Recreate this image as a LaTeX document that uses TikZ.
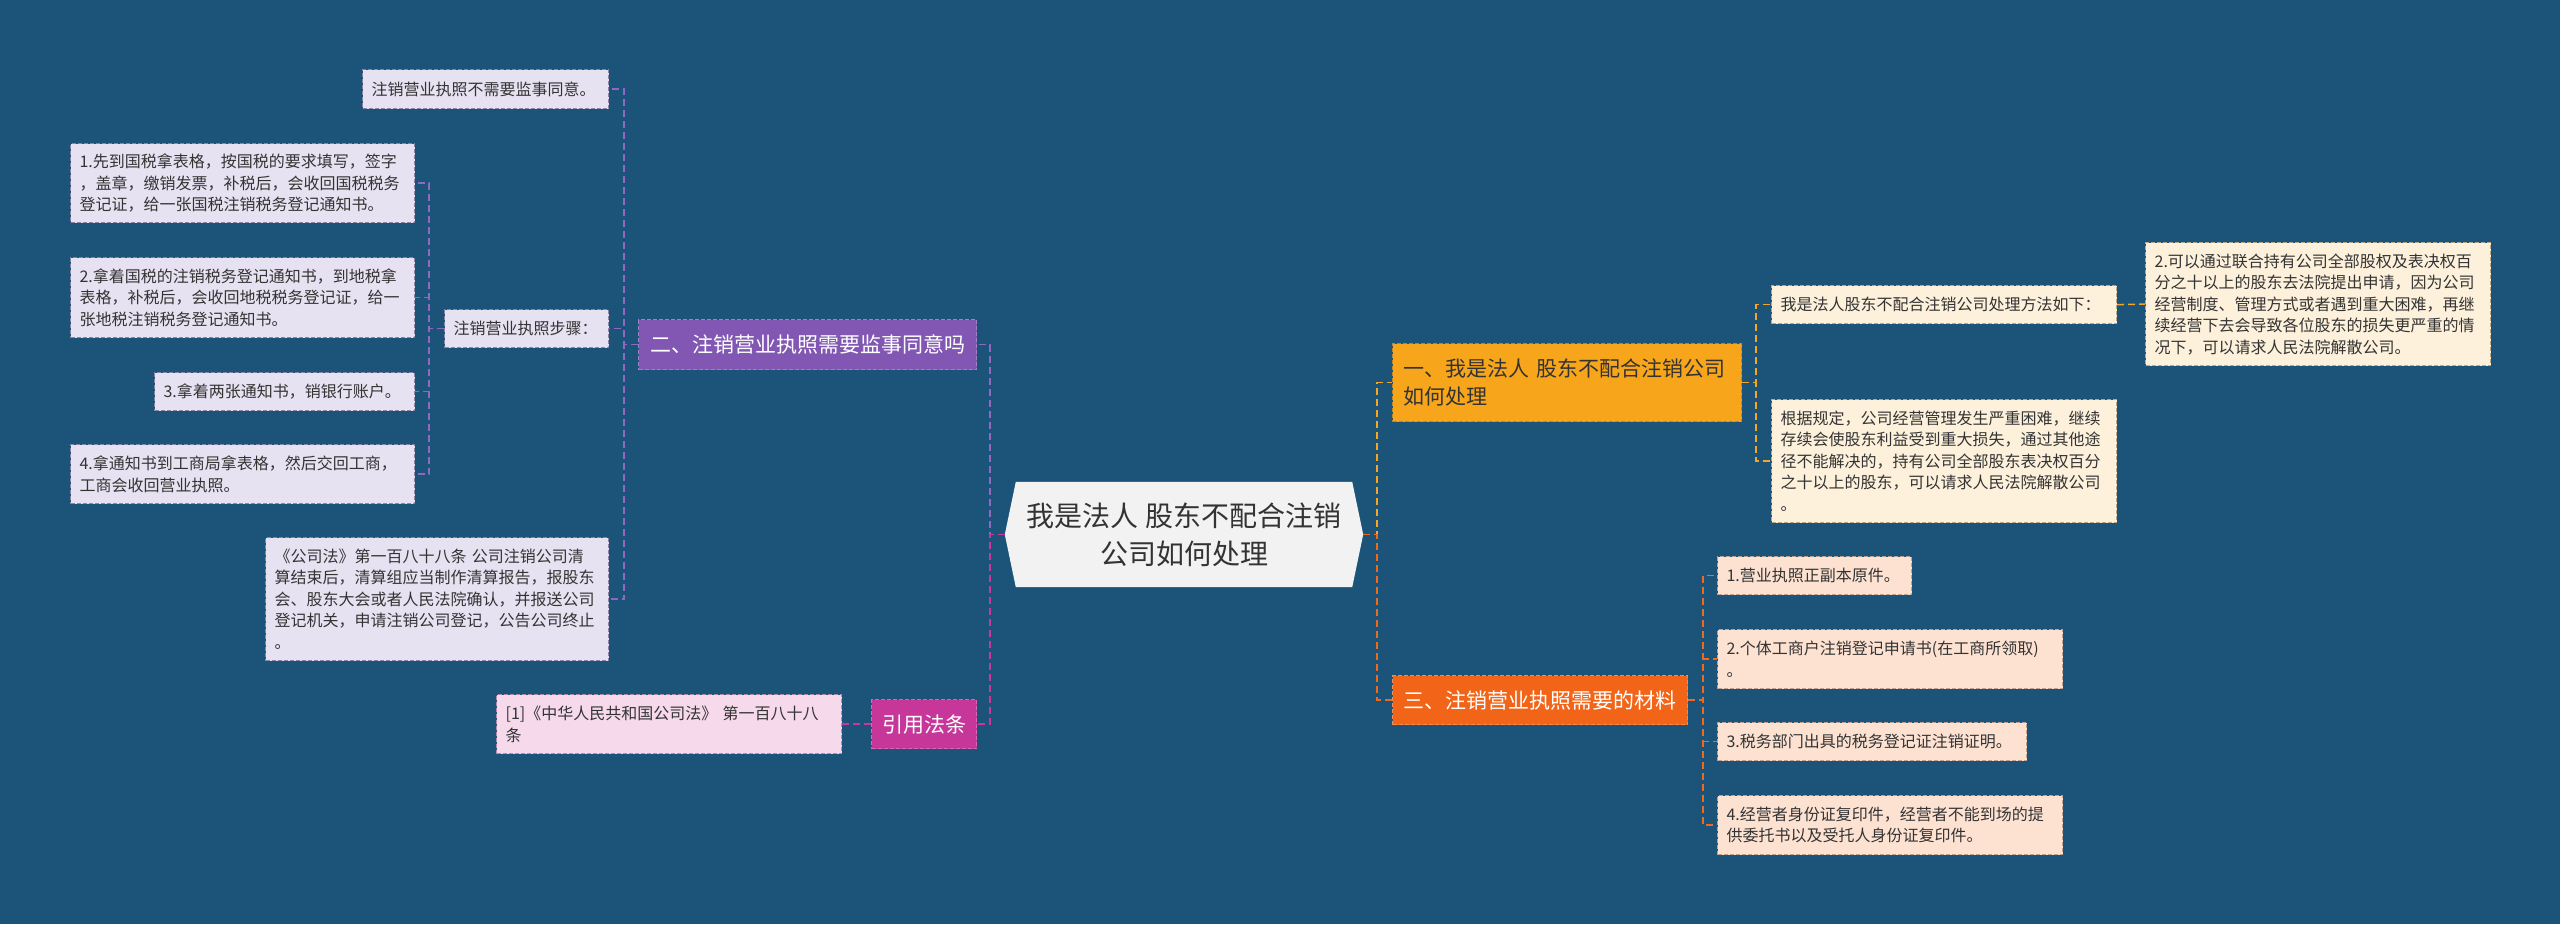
\documentclass[tikz,border=0pt]{standalone}
\usepackage{fontspec}
\setmainfont{Noto Sans CJK SC}
\usetikzlibrary{calc}
\definecolor{bg}{HTML}{1B5478}
\definecolor{txt}{HTML}{333333}
\definecolor{lavfill}{HTML}{E7E2F1}
\definecolor{lavdraw}{HTML}{8C84A6}
\definecolor{pinkfill}{HTML}{F6D9EB}
\definecolor{pinkdraw}{HTML}{B78AA8}
\definecolor{creamfill}{HTML}{FDF1DC}
\definecolor{creamdraw}{HTML}{B8A888}
\definecolor{peachfill}{HTML}{FDE2D2}
\definecolor{peachdraw}{HTML}{C0A090}
\definecolor{centerfill}{HTML}{F2F2F2}
\definecolor{purpleA}{HTML}{8157B3}
\definecolor{magentaA}{HTML}{C7379A}
\definecolor{yellowA}{HTML}{F7A61C}
\definecolor{orangeA}{HTML}{F26518}
\definecolor{cpurple}{HTML}{9068C2}
\definecolor{cmagenta}{HTML}{C8379A}
\definecolor{cyellow}{HTML}{F5A623}
\definecolor{corange}{HTML}{EE6A1E}
\pgfdeclarelayer{background}
\pgfsetlayers{background,main}
\begin{document}
\begin{tikzpicture}[x=1pt,y=-1pt,
  box/.style={anchor=north west, inner xsep=9pt, inner ysep=0pt, align=left, text=txt, line width=1.2pt, dash pattern=on 4pt off 2pt, font=\fontsize{16}{21.5}\selectfont},
  leafL/.style={box, fill=lavfill, draw=lavdraw},
  leafP/.style={box, fill=pinkfill, draw=pinkdraw},
  leafY/.style={box, fill=creamfill, draw=creamdraw},
  leafO/.style={box, fill=peachfill, draw=peachdraw},
  topic/.style={box, inner xsep=10.5pt, font=\fontsize{21}{28}\selectfont},
  conn/.style={line width=1.5pt, dash pattern=on 7pt off 4pt},
]
\useasboundingbox (0,0) rectangle (2560,924);
\begin{pgfonlayer}{background}
\fill[bg] (0,0) rectangle (2560,924);
\end{pgfonlayer}

% centre
\node[font=\fontsize{28}{38}\selectfont, text=txt, align=center, minimum width=358pt, minimum height=105pt, inner sep=0pt] (c) at (1184,534.5) {我是法人 股东不配合注销\\公司如何处理};
\begin{pgfonlayer}{background}
\fill[centerfill] ($(c.north west)+(11,0)$) -- ($(c.north east)+(-11,0)$) -- (c.east) -- ($(c.south east)+(-11,0)$) -- ($(c.south west)+(11,0)$) -- (c.west) -- cycle;
\end{pgfonlayer}

% left branch
\node[topic, fill=purpleA, draw=purpleA!75!white, text=white, align=center, minimum width=338pt, text width=317pt, minimum height=50pt] (nTwo) at (638,319) {二、注销营业执照需要监事同意吗};
\node[leafL, minimum width=246pt, text width=228pt, minimum height=39pt] (nA) at (362,69) {注销营业执照不需要监事同意。};
\node[leafL, minimum width=164pt, text width=146pt, minimum height=38pt] (nSteps) at (444,309) {注销营业执照步骤：};
\node[leafL, minimum width=344pt, text width=326pt, minimum height=79pt] (n1) at (70,143) {1.先到国税拿表格，按国税的要求填写，签字\\，盖章，缴销发票，补税后，会收回国税税务\\登记证，给一张国税注销税务登记通知书。};
\node[leafL, minimum width=344pt, text width=326pt, minimum height=80pt] (n2) at (70,257) {2.拿着国税的注销税务登记通知书，到地税拿\\表格，补税后，会收回地税税务登记证，给一\\张地税注销税务登记通知书。};
\node[leafL, minimum width=260pt, text width=242pt, minimum height=38pt] (n3) at (154,372) {3.拿着两张通知书，销银行账户。};
\node[leafL, minimum width=344pt, text width=326pt, minimum height=59pt] (n4) at (70,444) {4.拿通知书到工商局拿表格，然后交回工商，\\工商会收回营业执照。};
\node[leafL, minimum width=343pt, text width=325pt, minimum height=123pt] (nLaw) at (265,537) {《公司法》第一百八十八条 公司注销公司清\\算结束后，清算组应当制作清算报告，报股东\\会、股东大会或者人民法院确认，并报送公司\\登记机关，申请注销公司登记，公告公司终止\\。};
\node[topic, fill=magentaA, draw=magentaA!75!white, text=white, align=center, minimum width=105pt, text width=84pt, minimum height=49pt] (nYin) at (871,699) {引用法条};
\node[leafP, minimum width=345pt, text width=327pt, minimum height=59pt] (nCite) at (496,694) {[1]《中华人民共和国公司法》 第一百八十八\\条};

% right branch
\node[topic, fill=yellowA, draw=yellowA!80!black, minimum width=349pt, text width=328pt, minimum height=78pt] (nOne) at (1392,343) {一、我是法人 股东不配合注销公司\\如何处理};
\node[leafY, minimum width=345pt, text width=327pt, minimum height=38pt] (nR1) at (1771,285) {我是法人股东不配合注销公司处理方法如下：};
\node[leafY, minimum width=345pt, text width=327pt, minimum height=123pt] (nR2) at (2145,242) {2.可以通过联合持有公司全部股权及表决权百\\分之十以上的股东去法院提出申请，因为公司\\经营制度、管理方式或者遇到重大困难，再继\\续经营下去会导致各位股东的损失更严重的情\\况下，可以请求人民法院解散公司。};
\node[leafY, minimum width=345pt, text width=327pt, minimum height=123pt] (nR3) at (1771,399) {根据规定，公司经营管理发生严重困难，继续\\存续会使股东利益受到重大损失，通过其他途\\径不能解决的，持有公司全部股东表决权百分\\之十以上的股东，可以请求人民法院解散公司\\。};
\node[topic, fill=orangeA, draw=orangeA!75!white, text=white, align=center, minimum width=295pt, text width=274pt, minimum height=49pt] (nThree) at (1392,675) {三、注销营业执照需要的材料};
\node[leafO, minimum width=194pt, text width=176pt, minimum height=38pt] (nM1) at (1717,556) {1.营业执照正副本原件。};
\node[leafO, minimum width=345pt, text width=327pt, minimum height=59pt] (nM2) at (1717,629) {2.个体工商户注销登记申请书(在工商所领取)\\。};
\node[leafO, minimum width=309pt, text width=291pt, minimum height=38pt] (nM3) at (1717,722) {3.税务部门出具的税务登记证注销证明。};
\node[leafO, minimum width=345pt, text width=327pt, minimum height=59pt] (nM4) at (1717,795) {4.经营者身份证复印件，经营者不能到场的提\\供委托书以及受托人身份证复印件。};

% connectors
\draw[conn, cpurple] (c.west) -- ++(-15,0) |- (nTwo.east);
\draw[conn, cmagenta] (c.west) -- ++(-15,0) |- (nYin.east);
\draw[conn, cyellow] (c.east) -- ++(14,0) |- (nOne.west);
\draw[conn, corange] (c.east) -- ++(14,0) |- (nThree.west);
\foreach \t in {nA,nSteps,nLaw} \draw[conn, cpurple] (nTwo.west) -- ++(-14,0) |- (\t.east);
\foreach \t in {n1,n2,n3,n4} \draw[conn, cpurple] (nSteps.west) -- ++(-15,0) |- (\t.east);
\draw[conn, cmagenta] (nYin.west) -- (nCite.east);
\foreach \t in {nR1,nR3} \draw[conn, cyellow] (nOne.east) -- ++(14,0) |- (\t.west);
\draw[conn, cyellow] (nR1.east) -- (nR2.west);
\foreach \t in {nM1,nM2,nM3,nM4} \draw[conn, corange] (nThree.east) -- ++(15,0) |- (\t.west);
\end{tikzpicture}
\end{document}
